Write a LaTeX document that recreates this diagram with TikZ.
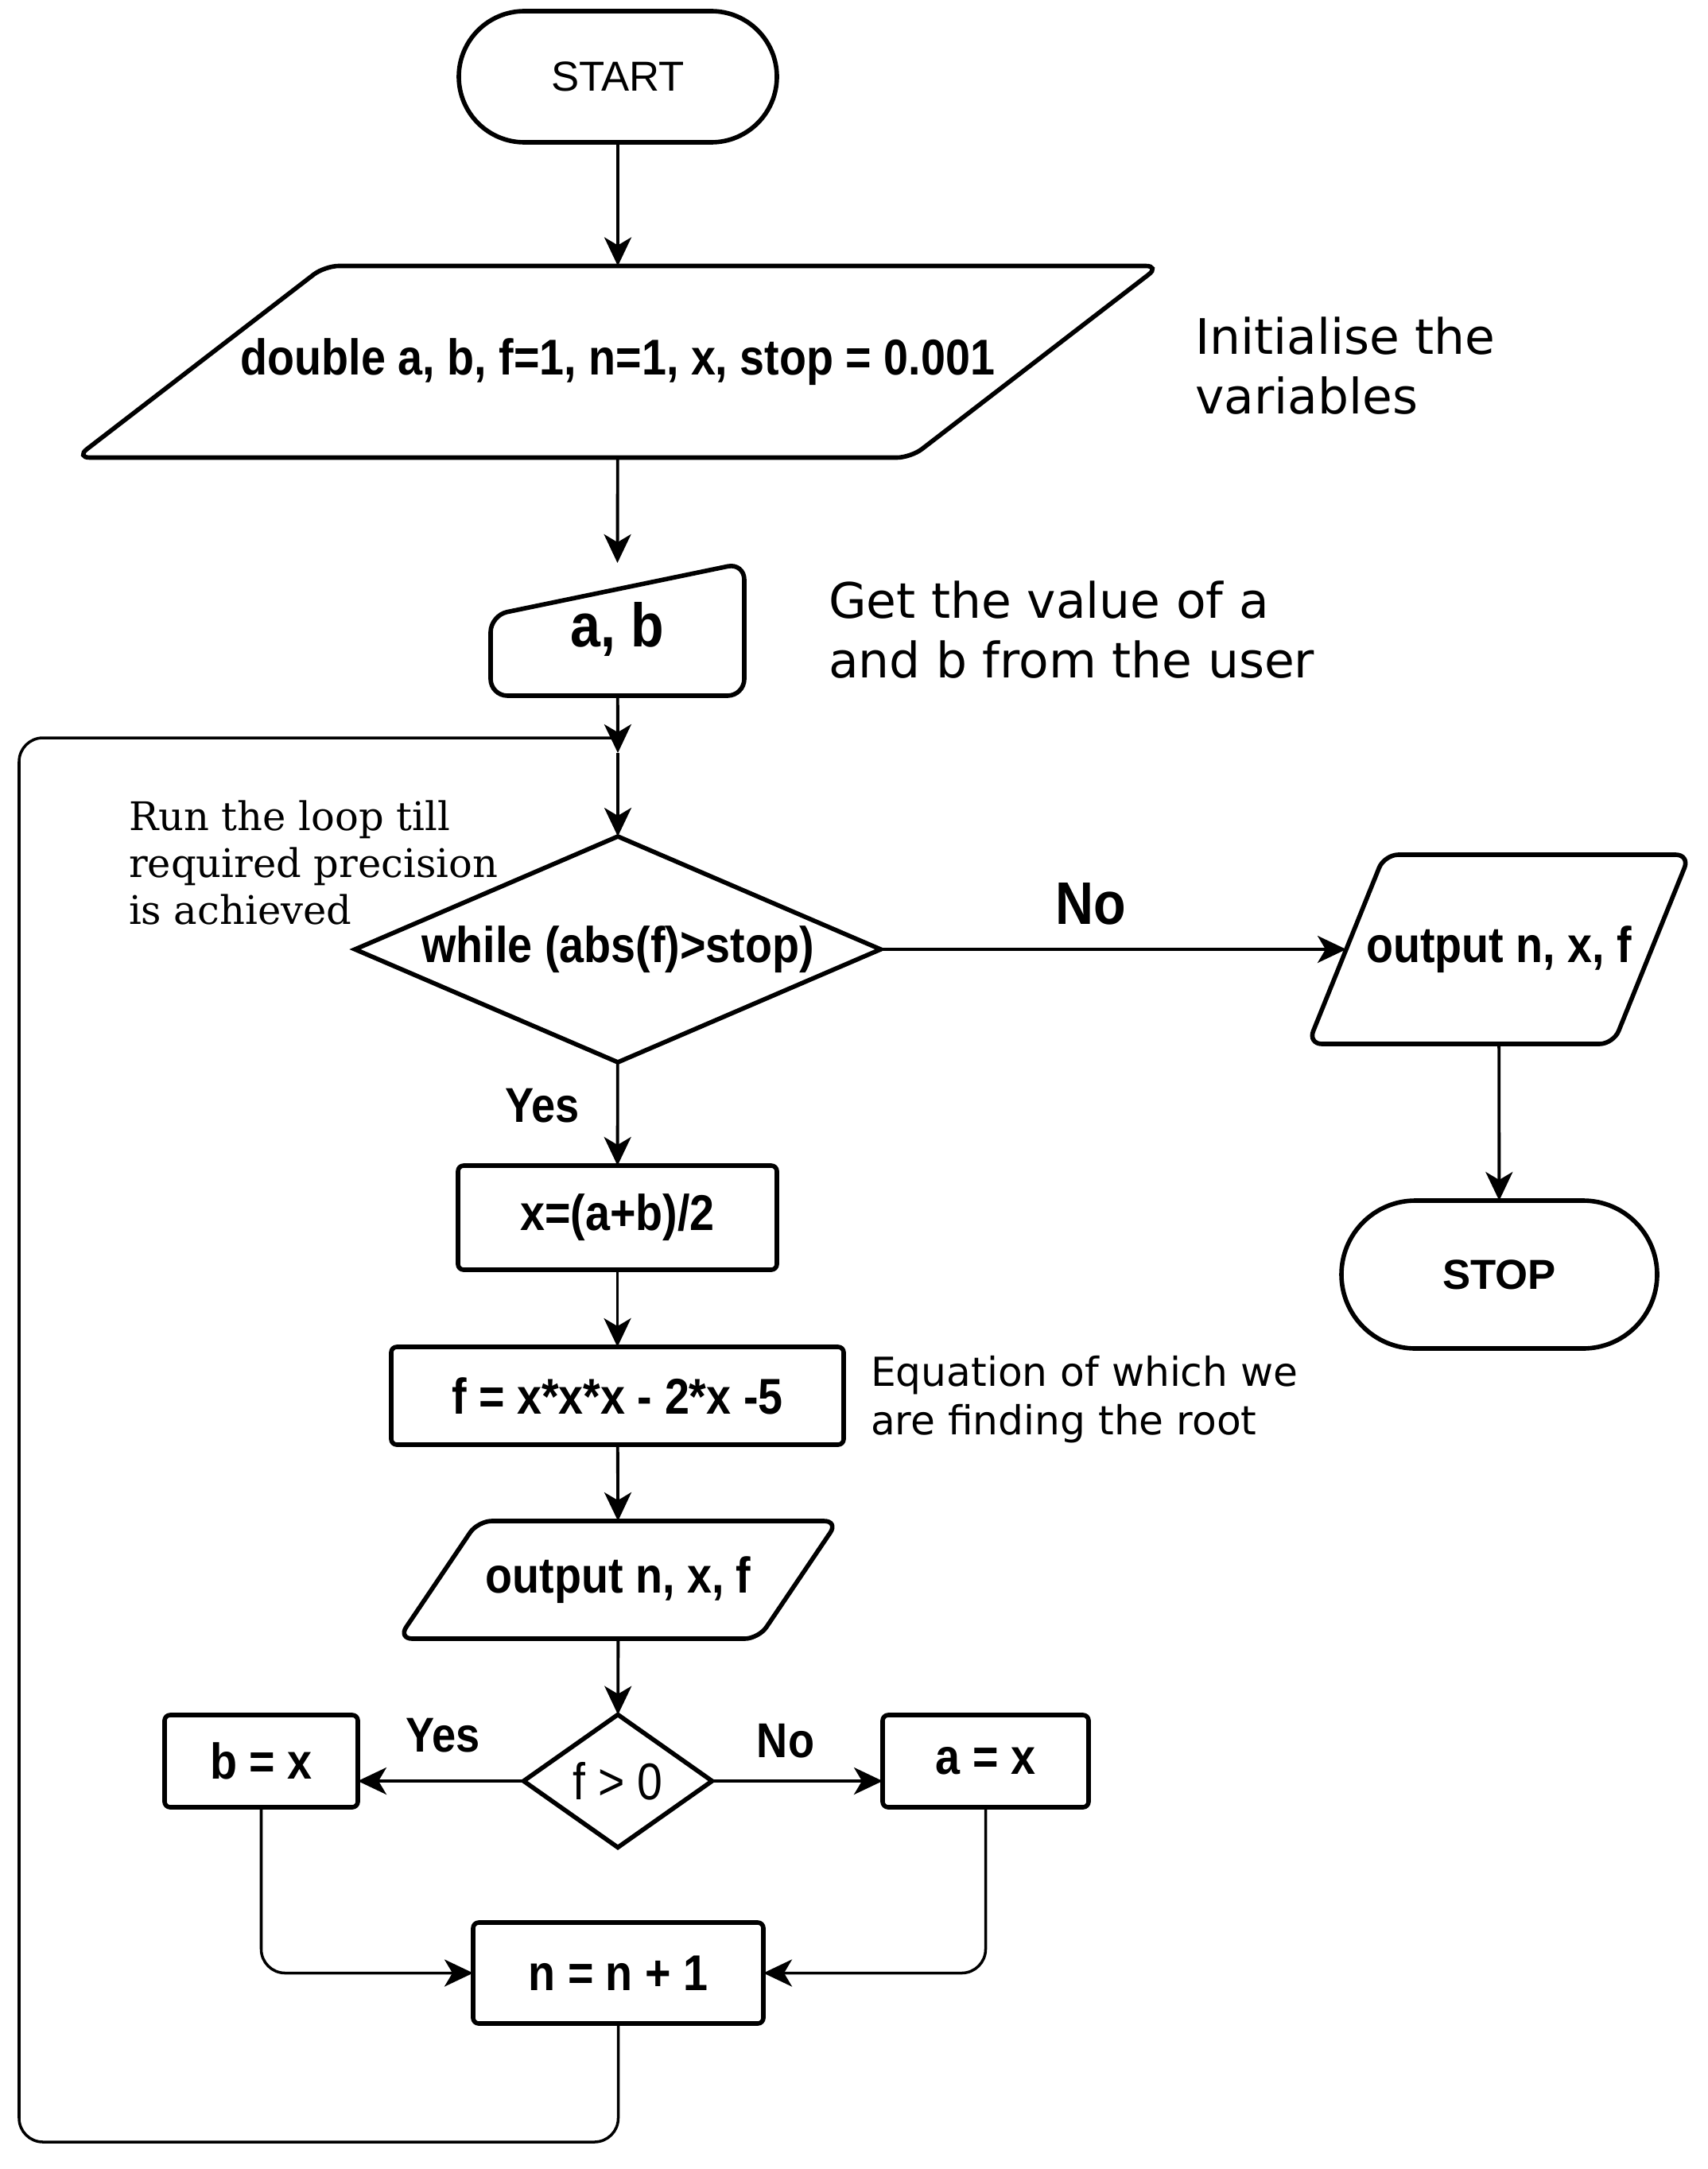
\documentclass[tikz,border=0pt]{standalone}
\usepackage{fontspec}
\setmainfont{Liberation Sans}
\newfontfamily\boxfont[FakeStretch=0.88]{Liberation Sans}
\newfontfamily\notefont{DejaVu Sans}
\newfontfamily\serifnote{DejaVu Serif}
\usetikzlibrary{arrows.meta,shapes.geometric,shapes.misc}

\begin{document}
\begin{tikzpicture}[>={Stealth[length=0.36cm,width=0.34cm,inset=0.1cm]},
  every node/.style={inner sep=0pt,outer sep=0pt},
  shapeline/.style={draw,line width=1.6pt},
  term/.style={shapeline,rounded rectangle,font=\fontsize{15}{18}\selectfont},
  proc/.style={shapeline,rectangle,rounded corners=2pt,font=\boxfont\bfseries\fontsize{18}{21}\selectfont},
  iotext/.style={rectangle,font=\boxfont\bfseries\fontsize{18}{21}\selectfont},
  dec/.style={shapeline,diamond,font=\boxfont\bfseries\fontsize{18}{21}\selectfont},
  flow/.style={->,line width=1.1pt},
  link/.style={->,line width=1pt,rounded corners=0.3cm},
  loopline/.style={line width=1pt,rounded corners=0.3cm},
  note/.style={align=left,anchor=west,font=\notefont\fontsize{17.5}{21.3}\selectfont},
  lbl/.style={font=\boxfont\bfseries\fontsize{17.5}{21}\selectfont}]
\useasboundingbox (0,0) rectangle (21.48,-27.28);

% main column
\node[term,minimum width=4cm,minimum height=1.65cm] (start) at (7.77,-0.965) {START};
\node[iotext,minimum width=10.5cm,minimum height=2.41cm] (init) at (7.77,-4.55) {double a, b, f=1, n=1, x, stop = 0.001};
\draw[shapeline,rounded corners=5pt] ([xshift=-1.565cm]init.south west) -- ([xshift=1.565cm]init.north west)
  -- ([xshift=1.565cm]init.north east) -- ([xshift=-1.565cm]init.south east) -- cycle;
\node[note] (initnote) at (15.03,-4.6) {Initialise the\\variables};
\node[minimum width=3.19cm,minimum height=1.67cm,font=\boxfont\bfseries\fontsize{22}{26}\selectfont] (ab) at (7.765,-7.915) {a, b};
\draw[shapeline,rounded corners=6pt] (ab.south west) -- ++(0,1.01) -- (ab.north east) -- (ab.south east) -- cycle;
\node[note] (abnote) at (10.42,-7.92) {Get the value of a\\and b from the user};
\coordinate (join) at (7.77,-9.28);
\coordinate (tip) at (7.77,-9.47);
\node[dec,aspect=2.33,minimum width=6.61cm,minimum height=2.84cm] (while) at (7.77,-11.94) {while (abs(f)>stop)};
\node[align=left,anchor=west,font=\serifnote\fontsize{14.1}{16.9}\selectfont] (loopnote) at (1.62,-10.85) {Run the loop till\\required precision\\is achieved};

% exit branch
\node[lbl,font=\boxfont\bfseries\fontsize{21.5}{25}\selectfont] (no1) at (13.72,-11.37) {No};
\node[iotext,minimum width=3.84cm,minimum height=2.38cm] (result) at (18.85,-11.94) {output n, x, f};
\draw[shapeline,rounded corners=5pt] ([xshift=-0.48cm]result.south west) -- ([xshift=0.48cm]result.north west)
  -- ([xshift=0.48cm]result.north east) -- ([xshift=-0.48cm]result.south east) -- cycle;
\node[term,font=\bfseries\fontsize{15}{18}\selectfont,minimum width=3.97cm,minimum height=1.86cm] (stop) at (18.855,-16.03) {STOP};

% loop body
\node[lbl] (yes1) at (6.82,-13.91) {Yes};
\node[proc,minimum width=4.01cm,minimum height=1.31cm] (mid) at (7.765,-15.315) {x=(a+b)/2};
\node[proc,minimum width=5.69cm,minimum height=1.23cm] (func) at (7.765,-17.555) {f = x*x*x - 2*x -5};
\node[note,font=\notefont\fontsize{14.3}{17.3}\selectfont] (funcnote) at (10.95,-17.6) {Equation of which we\\are finding the root};
\node[iotext,minimum width=4.53cm,minimum height=1.48cm] (show) at (7.775,-19.87) {output n, x, f};
\draw[shapeline,rounded corners=5pt] ([xshift=-0.5cm]show.south west) -- ([xshift=0.5cm]show.north west)
  -- ([xshift=0.5cm]show.north east) -- ([xshift=-0.5cm]show.south east) -- cycle;
\node[dec,aspect=1.42,font=\boxfont\fontsize{18.5}{21}\selectfont,minimum width=2.37cm,minimum height=1.67cm] (sign) at (7.77,-22.4) {f > 0};
\node[proc,minimum width=2.43cm,minimum height=1.16cm] (setb) at (3.285,-22.15) {b = x};
\node[proc,minimum width=2.59cm,minimum height=1.16cm] (seta) at (12.395,-22.15) {a = x};
\node[lbl] (yes2) at (5.57,-21.83) {Yes};
\node[lbl] (no2) at (9.88,-21.9) {No};
\node[proc,minimum width=3.65cm,minimum height=1.27cm] (incr) at (7.775,-24.815) {n = n + 1};
\coordinate (corner) at (0.24,-26.94);

% connectors
\draw[flow] (start) -- (init);
\draw[flow] (init) -- (ab.north);
\draw[flow] (ab) -- (tip);
\draw[flow] (tip) -- (while);
\draw[flow] (while) -- (result);
\draw[flow] (result) -- (stop);
\draw[flow] (while) -- (mid);
\draw[flow] (mid) -- (func);
\draw[flow] (func) -- (show);
\draw[flow] (show) -- (sign);
\draw[flow] (sign.west) -- (sign.west -| setb.east);
\draw[flow] (sign.east) -- (sign.east -| seta.west);
\draw[link] (setb) |- (incr);
\draw[link] (seta) |- (incr);
\draw[loopline] (incr.south) |- (corner) |- (join);
\end{tikzpicture}
\end{document}
